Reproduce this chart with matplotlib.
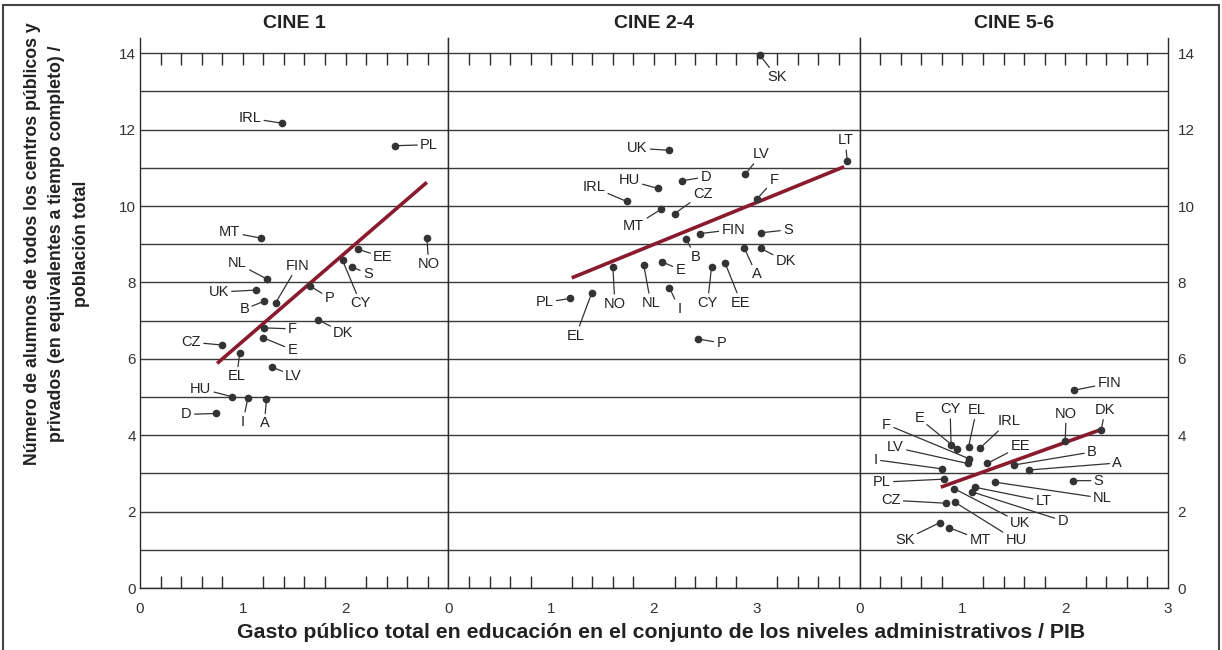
import numpy as np
import matplotlib.pyplot as plt
from matplotlib.patches import Rectangle

plt.rcParams['font.family'] = ['Liberation Sans', 'DejaVu Sans']

panel_titles = ['CINE 1', 'CINE 2-4', 'CINE 5-6']
panel_xmax = [3, 4, 3]
panel_xticks = [[0, 1, 2], [0, 1, 2, 3], [0, 1, 2, 3]]
ytick_values = list(range(0, 15))

# CINE 1
c1_names = ['IRL', 'PL', 'MT', 'NO', 'EE', 'CY', 'S', 'NL', 'UK', 'P', 'B', 'FIN',
            'DK', 'F', 'E', 'CZ', 'EL', 'LV', 'HU', 'I', 'A', 'D']
c1_x = [1.38, 2.48, 1.175, 2.79, 2.12, 1.97, 2.06, 1.24, 1.126, 1.65, 1.21, 1.32,
        1.735, 1.21, 1.20, 0.80, 0.97, 1.28, 0.893, 1.05, 1.23, 0.735]
c1_y = [12.17, 11.58, 9.16, 9.16, 8.87, 8.58, 8.41, 8.08, 7.80, 7.91, 7.51, 7.47,
        7.02, 6.81, 6.55, 6.36, 6.14, 5.79, 5.01, 4.98, 4.94, 4.57]
c1_trend_x = [0.75, 2.79]
c1_trend_y = [5.88, 10.62]

# CINE 2-4
c2_names = ['SK', 'UK', 'LT', 'LV', 'D', 'HU', 'IRL', 'F', 'MT', 'CZ', 'FIN', 'S',
            'B', 'A', 'DK', 'E', 'EE', 'NO', 'NL', 'CY', 'I', 'EL', 'PL', 'P']
c2_x = [3.03, 2.15, 3.88, 2.89, 2.27, 2.04, 1.735, 3.00, 2.065, 2.20, 2.45, 3.04,
        2.31, 2.88, 3.04, 2.08, 2.69, 1.60, 1.90, 2.56, 2.15, 1.395, 1.18, 2.43]
c2_y = [13.95, 11.46, 11.17, 10.84, 10.66, 10.46, 10.12, 10.18, 9.91, 9.80, 9.28, 9.30,
        9.14, 8.89, 8.89, 8.54, 8.52, 8.41, 8.46, 8.41, 7.86, 7.73, 7.58, 6.52]
c2_trend_x = [1.20, 3.85]
c2_trend_y = [8.12, 11.03]

# CINE 5-6
c3_names = ['FIN', 'DK', 'NO', 'CY', 'E', 'EL', 'IRL', 'F', 'LV', 'EE', 'B', 'A',
            'I', 'PL', 'S', 'NL', 'LT', 'UK', 'D', 'CZ', 'HU', 'SK', 'MT']
c3_x = [2.09, 2.35, 2.00, 0.89, 0.95, 1.06, 1.17, 1.06, 1.05, 1.24, 1.50, 1.65,
        0.80, 0.82, 2.08, 1.32, 1.12, 0.92, 1.09, 0.84, 0.93, 0.78, 0.87]
c3_y = [5.18, 4.14, 3.86, 3.74, 3.63, 3.70, 3.66, 3.39, 3.26, 3.26, 3.22, 3.09,
        3.12, 2.85, 2.81, 2.77, 2.64, 2.60, 2.52, 2.22, 2.24, 1.71, 1.58]
c3_trend_x = [0.79, 2.35]
c3_trend_y = [2.64, 4.15]

# label placement (pixel offsets from the point)
c1_offsets = [(-32, 5), (34, 1), (-31, 6), (2, -26), (25, -8), (18, -43), (16, -7),
              (-30, 16), (-37, -2), (20, -12), (-20, -8), (22, 37),
              (25, -13), (28, -1), (29, -12), (-31, 3), (-3, -23), (22, -9),
              (-31, 8), (-5, -24), (-2, -24), (-29, -1)]
c2_offsets = [(17, -22), (-32, 2), (-2, 21), (16, 20), (24, 4), (-29, 8), (-33, 14),
              (17, 19), (-27, -17), (28, 20), (33, 4), (27, 3),
              (10, -18), (12, -26), (25, -13), (18, -8), (16, -40), (2, -37),
              (7, -38), (-4, -36), (10, -21), (-16, -43), (-25, -4), (23, -4)]
c3_offsets = [(35, 7), (4, 20), (1, 27), (-1, 36), (-38, 31), (8, 37), (29, 27),
              (-82, 34), (-72, 16), (33, 17), (78, 13), (88, 7),
              (-66, 9), (-62, -3), (25, 0), (107, -16), (69, -14), (66, -34),
              (91, -29), (-55, 3), (61, -38), (-35, -17), (31, -12)]

panels = [
    (c1_names, c1_x, c1_y, c1_trend_x, c1_trend_y, c1_offsets),
    (c2_names, c2_x, c2_y, c2_trend_x, c2_trend_y, c2_offsets),
    (c3_names, c3_x, c3_y, c3_trend_x, c3_trend_y, c3_offsets),
]

fig = plt.figure(figsize=(12.22, 6.5), dpi=100)
gs = fig.add_gridspec(1, 3, width_ratios=panel_xmax, wspace=0,
                      left=140 / 1222, right=1168 / 1222,
                      bottom=1 - 588 / 650, top=1 - 38 / 650)

dark = '#2b2b2b'
for i, (names, xs, ys, tx, ty, offs) in enumerate(panels):
    ax = fig.add_subplot(gs[0, i])
    xmax = panel_xmax[i]
    ax.set_xlim(0, xmax)
    ax.set_ylim(0, 14.4)

    ax.set_yticks(ytick_values)
    ax.set_yticklabels([str(v) if v % 2 == 0 else '' for v in ytick_values])
    ax.yaxis.grid(True, color='#3a3a3a', lw=1.0)
    ax.set_axisbelow(True)
    ax.tick_params(axis='y', length=0, labelsize=11, colors='#333333', pad=3)
    if i == 0:
        ax.tick_params(axis='y', labelleft=True, labelright=False)
    elif i == 2:
        ax.yaxis.tick_right()
        ax.tick_params(axis='y', labelleft=False, labelright=True, length=0, pad=7)
    else:
        ax.tick_params(axis='y', labelleft=False)

    ax.set_xticks(panel_xticks[i])
    ax.set_xticklabels([str(v) for v in panel_xticks[i]])
    minor = np.arange(0.2, xmax - 0.1, 0.2)
    ax.set_xticks(minor, minor=True)
    ax.tick_params(axis='x', which='major', length=0, labelsize=11, colors='#333333', pad=10)
    ax.tick_params(axis='x', which='minor', direction='in', length=8.5, width=1, color=dark)
    # hanging ticks along the 14 line
    ax.vlines(minor, 14 - 0.31, 14, color=dark, lw=1)

    for side in ['left', 'right', 'bottom']:
        ax.spines[side].set_color(dark)
        ax.spines[side].set_linewidth(1.0)
    ax.spines['top'].set_visible(False)

    ax.plot(tx, ty, color='#8a1a2e', lw=2.6, solid_capstyle='butt', zorder=3)
    ax.plot(xs, ys, 'o', color='#333333', ms=4.5, zorder=4)
    for name, x, y, (dx, dy) in zip(names, xs, ys, offs):
        ax.annotate(name, (x, y), xytext=(dx, dy), textcoords='offset pixels',
                    ha='center', va='center', fontsize=10.5, color='#222222',
                    arrowprops=dict(arrowstyle='-', color='#333333', lw=0.9,
                                    shrinkA=0, shrinkB=0), zorder=5)

    ax.set_title(panel_titles[i], fontsize=14, fontweight='bold', color='#222222', pad=7)

fig.text(661 / 1222, 1 - 633 / 650,
         'Gasto público total en educación en el conjunto de los niveles administrativos / PIB',
         ha='center', va='center', fontsize=15.3, fontweight='bold', color='#222222')
fig.text(57 / 1222, 1 - 244 / 650,
         'Número de alumnos de todos los centros públicos y\n'
         'privados (en equivalentes a tiempo completo) /\npoblación total',
         ha='center', va='center', rotation=90, fontsize=12.8, fontweight='bold',
         color='#222222', linespacing=1.6)

fig.patches.append(Rectangle((3 / 1222, -0.01), 1216 / 1222, 1 - 5 / 650 + 0.01,
                             transform=fig.transFigure, fill=False,
                             edgecolor='#444444', lw=1.5))

fig.savefig('out.png', dpi=100)
